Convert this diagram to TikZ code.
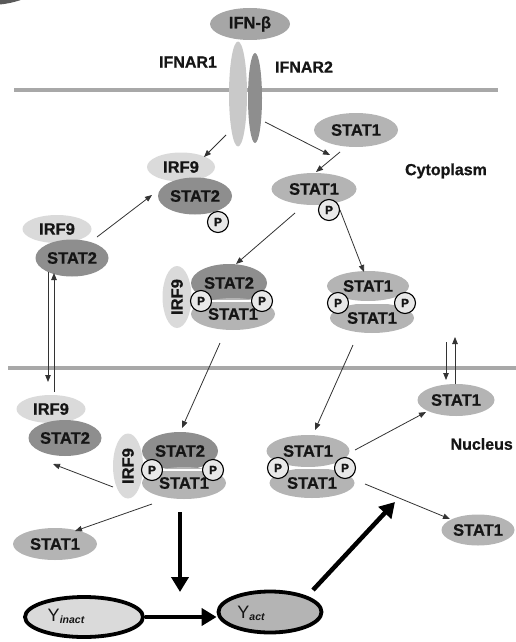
\documentclass[tikz,border=0pt]{standalone}
\usepackage{fontspec}
\setmainfont[BoldFeatures={FakeBold=0.8}]{Liberation Sans}
\usetikzlibrary{shapes.geometric,arrows.meta,calc}
\definecolor{lgray}{HTML}{DADADA}
\definecolor{mgray}{HTML}{B4B4B4}
\definecolor{dgray}{HTML}{8E8E8E}
\definecolor{memb}{HTML}{A8A8A8}
\definecolor{pfill}{HTML}{E8E8E8}
\definecolor{txt}{HTML}{151515}
\definecolor{arrc}{HTML}{333333}
\definecolor{corner}{HTML}{5A5A5A}
\begin{document}
\begin{tikzpicture}[x=1pt,y=-1pt,
 prot/.style={ellipse, inner sep=0pt, font=\bfseries\fontsize{16.5}{17}\selectfont, text=txt},
 s1/.style={prot, fill=mgray},
 s2/.style={prot, fill=dgray},
 i9/.style={prot, fill=lgray},
 sz/.style 2 args={minimum width=#1, minimum height=#2},
 phos/.style={circle, draw=black, line width=1.1pt, fill=pfill, minimum size=21pt, inner sep=0pt, font=\bfseries\fontsize{12}{12}\selectfont, text=txt},
 lbl/.style={font=\bfseries\fontsize{16}{17}\selectfont, text=txt, inner sep=0pt},
 arr/.style={draw=arrc, line width=0.8pt, -{Triangle[length=7pt,width=5.5pt]}},
 bigarr/.style={draw=black, line width=4.5pt, -{Triangle[length=15pt,width=17pt]}},
 yel/.style={ellipse, draw=black, line width=3.8pt, inner sep=0pt},
 seam/.style={draw=white, line width=1.4pt},
 ]
\useasboundingbox (0,0) rectangle (516,642);
% corner badge
\fill[corner] (-10,-92) circle (97);
% membranes
\draw[memb, line width=4pt] (14,90) -- (498,90);
\draw[memb, line width=4pt] (8,368) -- (516,368);

% receptor and ligand
\node[prot, fill=dgray, sz={14}{90}] (ifnar2) at (255,98) {};
\node[prot, fill=lgray!92!black, sz={18}{105}] (ifnar1) at (238,94) {};
\node[prot, fill=mgray!92!black, sz={80}{32}] (ifnb) at (250,24) {IFN-β};
\node[lbl] (lifnar1) at (188,62) {IFNAR1};
\node[lbl] (lifnar2) at (304,67) {IFNAR2};
\node[lbl] (lcyto) at (446,171) {Cytoplasm};
\node[lbl, anchor=east] (lnuc) at (513,444) {Nucleus};

% cytoplasm proteins
\node[s1, sz={84}{34}] (stat1a) at (356,130) {STAT1};
\node[s1, sz={85}{32}] (stat1b) at (314,189) {STAT1};
\node[phos] (pb) at (329,210) {P};
\node[i9, sz={68}{29}] (irf9a) at (181,167) {IRF9};
\node[s2, sz={74}{37}] (stat2a) at (195,196) {STAT2};
\node[phos] (pa) at (218,222) {P};
\node[i9, sz={69}{28}] (irf9l) at (57,229) {IRF9};
\node[s2, sz={73}{37}] (stat2l) at (72,258) {STAT2};

% cytoplasm complex
\node[i9, sz={29}{62}] (irf9c) at (177,297) {\rotatebox{90}{IRF9}};
\node[s2, sz={76}{38}] (stat2c) at (229,283) {STAT2};
\node[s1, sz={84}{32}] (stat1c) at (233,314) {STAT1};
\node[phos] (pc1) at (201,301) {P};
\node[phos] (pc2) at (262,301) {P};
\draw[seam] (pc1) -- (pc2);

% cytoplasm STAT1 dimer
\node[s1, sz={82}{30}] (d1t) at (368,286) {STAT1};
\node[s1, sz={84}{30}] (d1b) at (372,318) {STAT1};
\node[phos] (pd1c) at (338,303) {P};
\node[phos] (pd2c) at (405,303) {P};
\draw[seam] (pd1c) -- (pd2c);

% nucleus complex
\node[i9, sz={30}{65}] (irf9n) at (128,466) {\rotatebox{90}{IRF9}};
\node[s2, sz={76}{38}] (stat2n) at (180,451) {STAT2};
\node[s1, sz={84}{32}] (stat1n) at (184,483) {STAT1};
\node[phos] (pn1) at (152,470) {P};
\node[phos] (pn2) at (213,470) {P};
\draw[seam] (pn1) -- (pn2);

% nucleus STAT1 dimer
\node[s1, sz={83}{32}] (n1t) at (308,451) {STAT1};
\node[s1, sz={85}{30}] (n1b) at (312,483) {STAT1};
\node[phos] (pd1) at (278,468) {P};
\node[phos] (pd2) at (345,468) {P};
\draw[seam] (pd1) -- (pd2);

% nucleus others
\node[i9, sz={69}{28}] (irf9nl) at (51,409) {IRF9};
\node[s2, sz={73}{36}] (stat2nl) at (65,438) {STAT2};
\node[s1, sz={77}{32}] (stat1r) at (456,400) {STAT1};
\node[s1, sz={73}{31}] (stat1br) at (478,530) {STAT1};
\node[s1, sz={84}{32}] (stat1bl) at (55,544) {STAT1};

% Y nodes
\node[yel, fill=lgray, sz={118}{40}] (yin) at (84,617) {};
\node[yel, fill=mgray, sz={103}{41}] (yact) at (270,612) {};
\node[inner sep=0pt, font=\fontsize{18}{18}\selectfont, text=txt] (yinL) at (66,616) {Y\raisebox{-2pt}{\fontsize{10.5}{10.5}\selectfont\bfseries\itshape inact}};
\node[inner sep=0pt, font=\fontsize{18}{18}\selectfont, text=txt] (yactL) at (251,613) {Y\raisebox{-2pt}{\fontsize{10.5}{10.5}\selectfont\bfseries\itshape act}};

\coordinate (inR) at (446,342);
\coordinate (outR) at (455,337);

% thin arrows
\draw[arr] ([shift={(-12,41)}]ifnar1.center) -- ([shift={(23,-10)}]irf9a.center);
\draw[arr] ([shift={(10,24)}]ifnar2.center) -- ([shift={(-26,25)}]stat1a.center);
\draw[arr] ([shift={(-16,22)}]stat1a.center) -- ([shift={(2,-17)}]stat1b.center);
\draw[arr] ([shift={(40,8)}]irf9l.center) -- ([shift={(-43,-1)}]stat2a.center);
\draw[arr] ([shift={(-19,24)}]stat1b.center) -- ([shift={(7,-19)}]stat2c.center);
\draw[arr] ([shift={(11,0)}]pb.center) -- ([shift={(-4,-14)}]d1t.center);
\draw[arr] ([shift={(-13,29)}]stat1c.center) -- ([shift={(2,-23)}]stat2n.center);
\draw[arr] ([shift={(-19,27)}]d1b.center) -- ([shift={(7,-21)}]n1t.center);
\draw[arr] ([shift={(-24,14)}]stat2l.center) -- ([shift={(-3,-27)}]irf9nl.center);
\draw[arr] ([shift={(3,-17)}]irf9nl.center) -- ([shift={(-18,15)}]stat2l.center);
\draw[arr] (inR) -- ([shift={(-10,-20)}]stat1r.center);
\draw[arr] ([shift={(-1,-16)}]stat1r.center) -- (outR);
\draw[arr] ([shift={(47,-1)}]n1t.center) -- ([shift={(-30,12)}]stat1r.center);
\draw[arr] ([shift={(53,1)}]n1b.center) -- ([shift={(-28,-11)}]stat1br.center);
\draw[arr] ([shift={(-15,21)}]irf9n.center) -- ([shift={(-12,26)}]stat2nl.center);
\draw[arr] ([shift={(-32,21)}]stat1n.center) -- ([shift={(20,-13)}]stat1bl.center);

% thick arrows
\draw[bigarr] ([shift={(-4,29)}]stat1n.center) -- ([shift={(96,-25)}]yin.center);
\draw[bigarr] (yin.east) -- (yin.east -| yact.west);
\draw[bigarr] ([shift={(43,-22)}]yact.center) -- ([shift={(83,19)}]n1b.center);
\end{tikzpicture}
\end{document}
